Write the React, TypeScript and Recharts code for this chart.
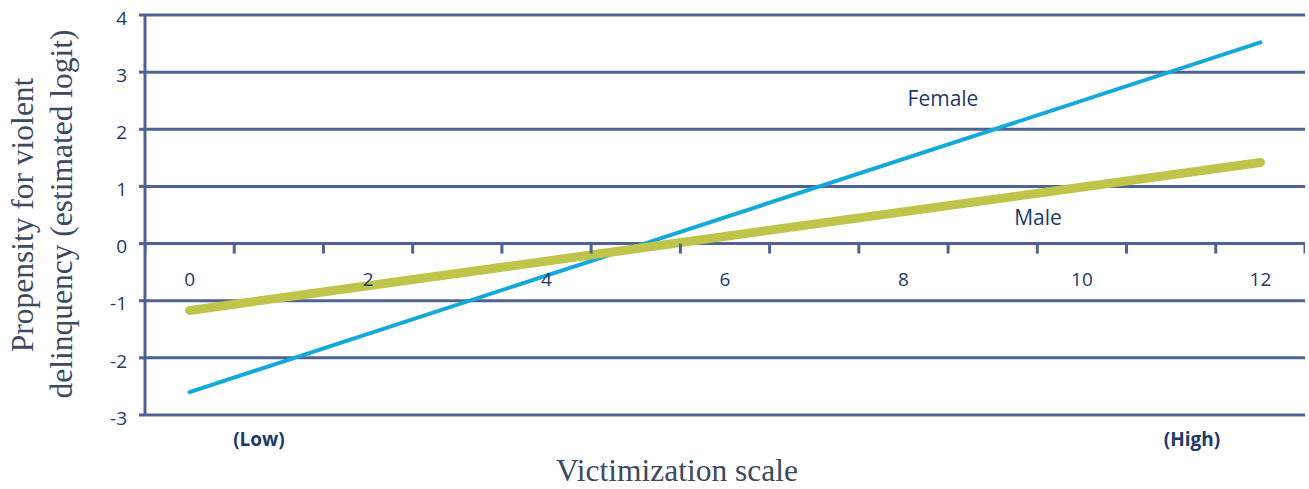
import React from "react";
import { ComposedChart, Line, Scatter, XAxis, YAxis, CartesianGrid } from "recharts";

// Victimization scale categories (0..12)
const categories = [0, 1, 2, 3, 4, 5, 6, 7, 8, 9, 10, 11, 12];
const xTickLabels = [0, 2, 4, 6, 8, 10, 12];
const yTicks = [-3, -2, -1, 0, 1, 2, 3, 4];

// Estimated logits at the ends of the scale (straight lines)
const femaleX = [0, 12];
const femaleY = [-2.6, 3.52];
const maleX = [0, 12];
const maleY = [-1.17, 1.42];

const femaleData = femaleX.map((x, i) => ({ x, y: femaleY[i] }));
const maleData = maleX.map((x, i) => ({ x, y: maleY[i] }));
// category boundaries for axis tick marks on the zero line
const boundaryData = [...categories.map((c) => c - 0.5), categories[categories.length - 1] + 0.5].map((x) => ({ x, y: 0 }));
const labelData = xTickLabels.map((x) => ({ x, y: 0 }));

const W = 1309;
const H = 489;
const GRID = "#4E6391";
const NAVY = "#1C3A6C";
const TITLE = "#3B4A5E";
const FEMALE = "#15A9DB";
const MALE = "#BEC54A";
const SANS = "'Open Sans', Lato, sans-serif";
const SERIF = "'Liberation Serif', 'DejaVu Serif', serif";

const TickMark = (props: any) => {
  const { cx, cy } = props;
  return <line x1={cx} y1={cy} x2={cx} y2={cy + 10} stroke={GRID} strokeWidth={3} />;
};

const TickLabel = (props: any) => {
  const { cx, cy, payload } = props;
  return (
    <text x={cx} y={cy + 36} dy="0.35em" textAnchor="middle" fill={NAVY} fontSize={19} fontFamily={SANS}>
      {payload.x}
    </text>
  );
};

export default function App() {
  return (
    <div style={{ position: "absolute", left: 0, top: 0, width: W, height: H }}>
      <ComposedChart width={W} height={H} margin={{ top: 15, right: 4, bottom: 74, left: 0 }}>
        <CartesianGrid horizontal vertical={false} stroke={GRID} strokeWidth={3} />
        <XAxis type="number" dataKey="x" domain={[-0.5, 12.5]} allowDataOverflow hide />
        <YAxis
          type="number"
          dataKey="y"
          domain={[-3, 4]}
          ticks={yTicks}
          width={145}
          axisLine={{ stroke: GRID, strokeWidth: 3 }}
          tickLine={{ stroke: GRID, strokeWidth: 3 }}
          tickSize={6}
          tickMargin={12}
          tick={{ fill: NAVY, fontSize: 19, fontFamily: SANS, dy: 3 }}
        />
        <Scatter data={boundaryData} dataKey="y" shape={TickMark} isAnimationActive={false} />
        <Scatter data={labelData} dataKey="y" shape={TickLabel} isAnimationActive={false} />
        <Line data={femaleData} dataKey="y" type="linear" stroke={FEMALE} strokeWidth={4} strokeLinecap="round" dot={false} isAnimationActive={false} />
        <Line data={maleData} dataKey="y" type="linear" stroke={MALE} strokeWidth={9} strokeLinecap="round" dot={false} isAnimationActive={false} />
      </ComposedChart>
      <svg width={W} height={H} style={{ position: "absolute", left: 0, top: 0, pointerEvents: "none" }}>
        <text x={33} y={215} transform="rotate(-90 33 215)" textAnchor="middle" fill={TITLE} fontSize={31.5} fontFamily={SERIF}>
          Propensity for violent
        </text>
        <text x={72} y={214} transform="rotate(-90 72 214)" textAnchor="middle" fill={TITLE} fontSize={31.5} fontFamily={SERIF}>
          delinquency (estimated logit)
        </text>
        <text x={677} y={481} textAnchor="middle" fill={TITLE} fontSize={31.5} fontFamily={SERIF}>
          Victimization scale
        </text>
        <text x={943} y={106} textAnchor="middle" fill={NAVY} fontSize={21} fontFamily={SANS}>
          Female
        </text>
        <text x={1038} y={225} textAnchor="middle" fill={NAVY} fontSize={21} fontFamily={SANS}>
          Male
        </text>
        <text x={259} y={439} dy="0.35em" textAnchor="middle" fill={NAVY} fontSize={19} fontWeight="bold" fontFamily={SANS}>
          (Low)
        </text>
        <text x={1192} y={439} dy="0.35em" textAnchor="middle" fill={NAVY} fontSize={19} fontWeight="bold" fontFamily={SANS}>
          (High)
        </text>
      </svg>
    </div>
  );
}
